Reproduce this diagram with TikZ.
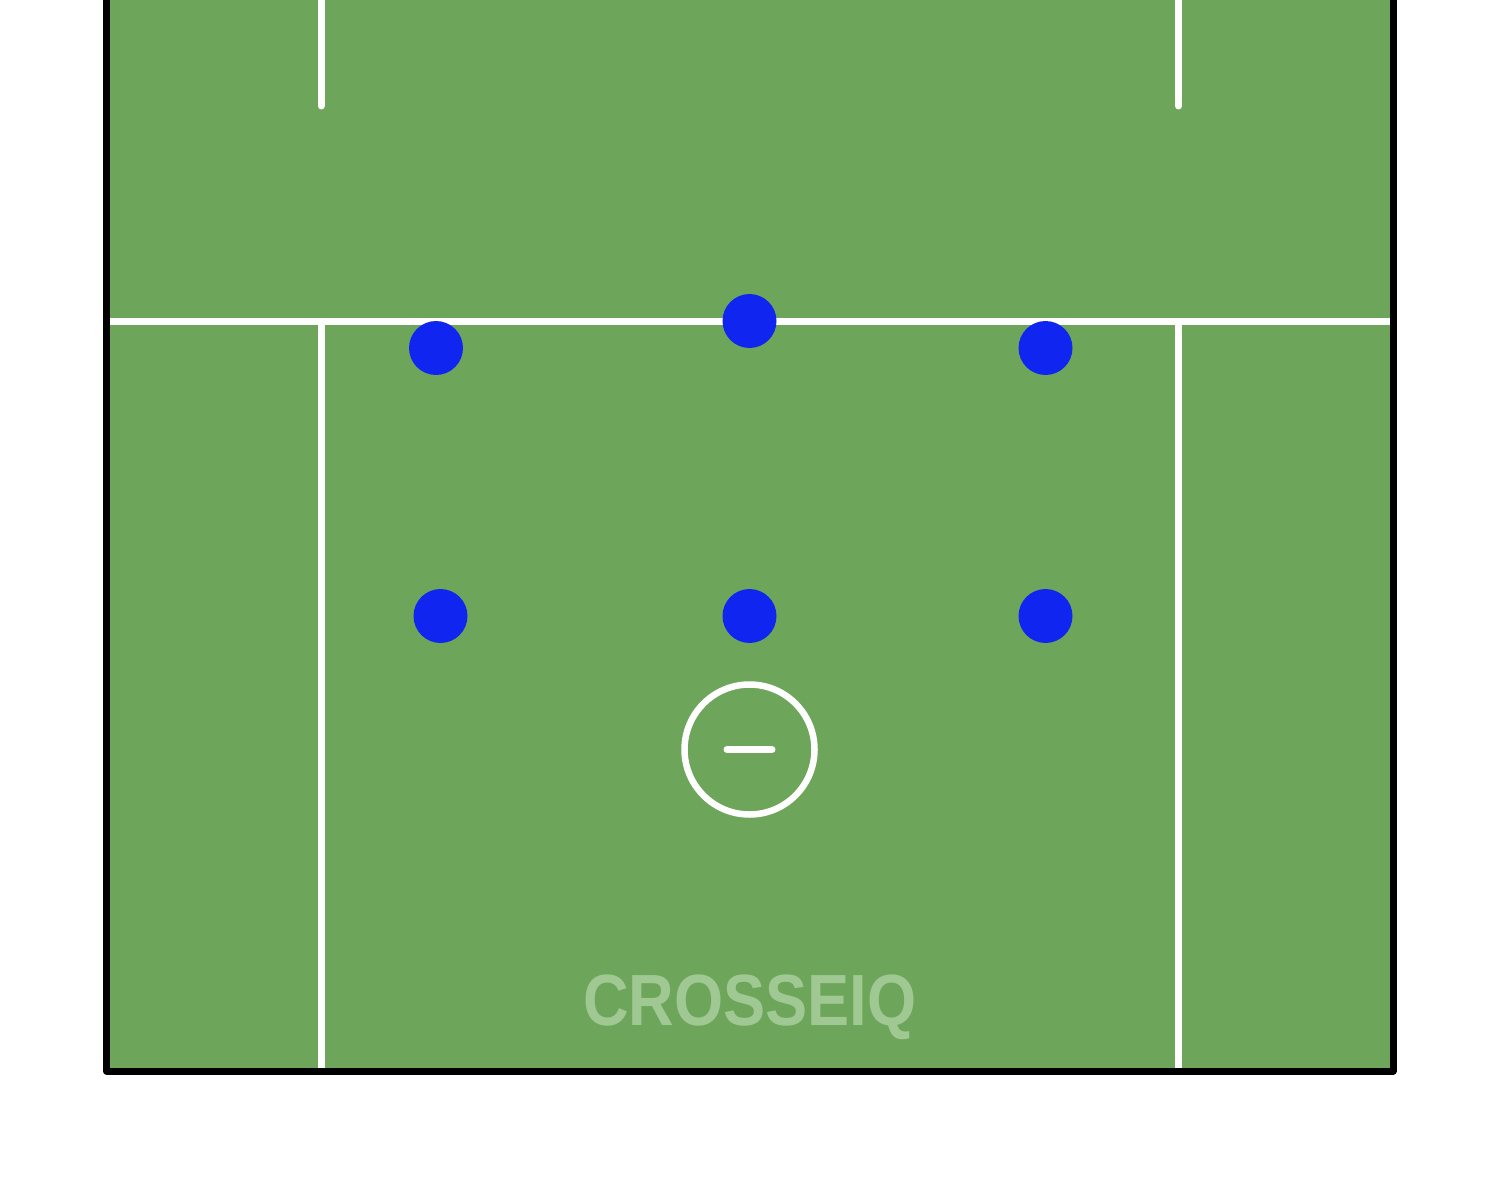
\documentclass[tikz,border=0pt]{standalone}
\usepackage{fontspec}
\setmainfont{Liberation Sans}
\definecolor{turf}{RGB}{109,166,90}
\definecolor{turfmark}{RGB}{160,200,147}
\definecolor{dotblue}{RGB}{16,38,240}
\tikzset{
  chalk/.style={draw=white, line width=0.14cm},
  player/.style={circle, fill=dotblue, minimum size=1.08cm, inner sep=0pt},
}
\begin{document}
\begin{tikzpicture}[x=0.02cm, y=-0.02cm]
			\useasboundingbox (0,0) rectangle (1500,1179);
			% field corners
			\coordinate (TL) at (106.5,0);
			\coordinate (BL) at (106.5,1071);
			\coordinate (BR) at (1393,1071);
			\coordinate (TR) at (1393,0);
			\fill[turf] (TL) rectangle (BR);
			% chalk lines
			\coordinate (ML) at (110,321);
			\coordinate (MR) at (1390,321);
			\draw[chalk] (ML) -- (MR);
			\draw[chalk, line cap=round] (321,0) -- (321,106);
			\draw[chalk, line cap=round] (1178.5,0) -- (1178.5,106);
			\draw[chalk] (321,324) -- (321,1068);
			\draw[chalk] (1178.5,324) -- (1178.5,1068);
			% border
			\draw[line width=0.14cm, line join=round] (TL) -- (BL) -- (BR) -- (TR);
			% players
			\node[player] (p1) at (436,348) {};
			\node[player] (p2) at (749.5,321) {};
			\node[player] (p3) at (1045.5,348) {};
			\node[player] (p4) at (440.5,616) {};
			\node[player] (p5) at (749.5,616) {};
			\node[player] (p6) at (1045.5,616) {};
			% goalie crease
			\coordinate (G) at (749.5,749.5);
			\draw[draw=white, line width=0.13cm] (G) circle (65);
			\draw[draw=white, line width=0.14cm, line cap=round] (727,749.5) -- (772,749.5);
			% watermark
			\node[anchor=base, text=turfmark, font=\bfseries\fontsize{41.3}{41.3}\selectfont, xscale=0.87, inner sep=0pt] (mark) at (750,1025) {CROSSEIQ};
		\end{tikzpicture}
\end{document}
